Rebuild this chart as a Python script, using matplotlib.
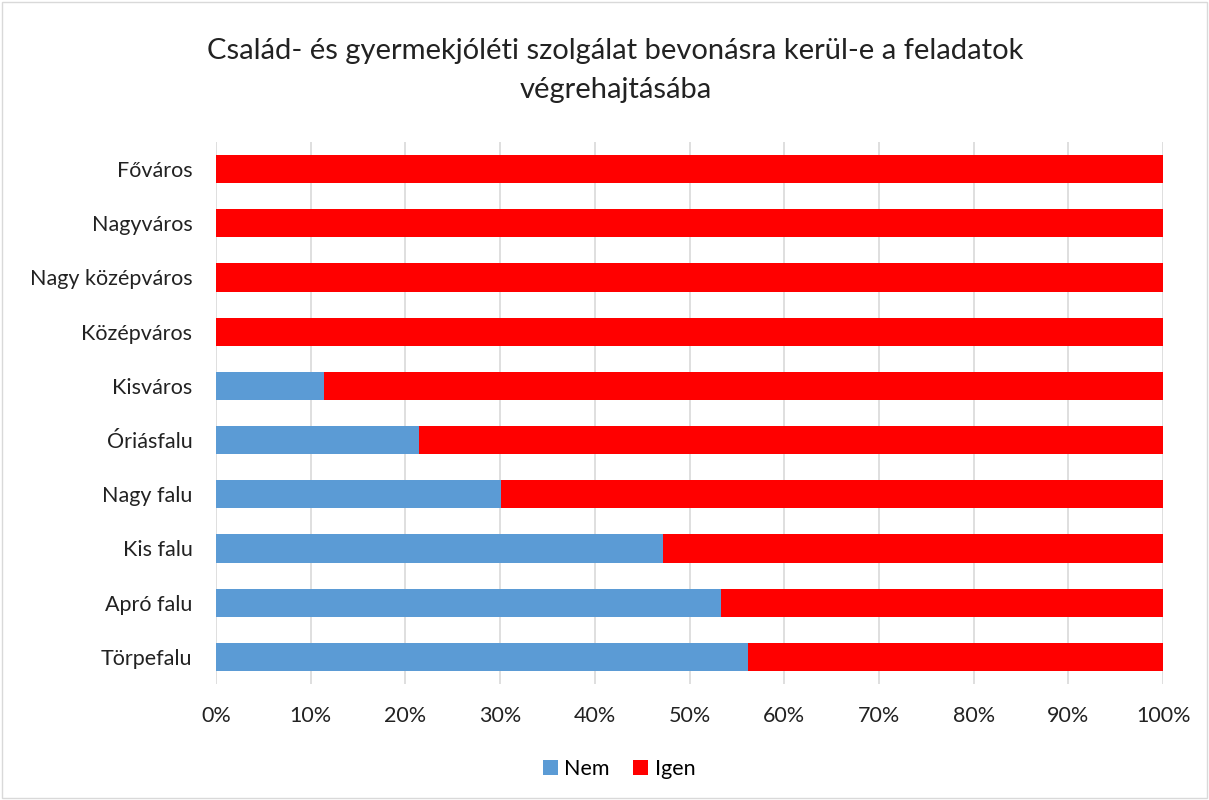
import numpy as np
import matplotlib.pyplot as plt
from matplotlib.ticker import PercentFormatter

# categories from top to bottom
categories = ["Főváros", "Nagyváros", "Nagy középváros", "Középváros", "Kisváros",
              "Óriásfalu", "Nagy falu", "Kis falu", "Apró falu", "Törpefalu"]
nem = [0.0, 0.0, 0.0, 0.0, 11.4, 21.4, 30.1, 47.2, 53.3, 56.2]
igen = [100 - v for v in nem]
x_ticks = list(range(0, 101, 10))

plt.rcParams['font.family'] = ['Lato', 'DejaVu Sans']

fig = plt.figure(figsize=(12.09, 8.0), dpi=100)
ax = fig.add_axes([0.1787, 0.145, 0.7833, 0.6775])

y = np.arange(len(categories))
ax.barh(y, nem, height=0.52, color='#5B9BD5', label='Nem', zorder=3)
ax.barh(y, igen, left=nem, height=0.52, color='#FF0000', label='Igen', zorder=3)

ax.set_ylim(len(categories) - 0.5, -0.5)
ax.set_xlim(0, 100)
ax.set_yticks(y)
ax.set_yticklabels(categories, fontsize=15.5, color='#222222')
ax.set_xticks(x_ticks)
ax.xaxis.set_major_formatter(PercentFormatter(decimals=0))
ax.tick_params(axis='x', labelsize=15.5, colors='#222222', length=0, pad=16)
ax.tick_params(axis='y', length=0, pad=17)
ax.grid(axis='x', color='#D9D9D9', linewidth=1.2, zorder=0)
for s in ax.spines.values():
    s.set_visible(False)

fig.suptitle("Család- és gyermekjóléti szolgálat bevonásra kerül-e a feladatok\nvégrehajtásába",
             x=0.509, y=0.953, fontsize=21, color='#222222', linespacing=1.65)

fig.legend(loc='center', bbox_to_anchor=(0.512, 0.039), ncol=2, frameon=False,
           fontsize=15.5, handlelength=0.7, handleheight=0.7, handletextpad=0.3,
           columnspacing=1.1)

fig.patches.append(plt.Rectangle((0.002, 0.002), 0.996, 0.996, transform=fig.transFigure,
                                 fill=False, edgecolor='#D9D9D9', linewidth=1))

fig.savefig('out.png', dpi=100)
